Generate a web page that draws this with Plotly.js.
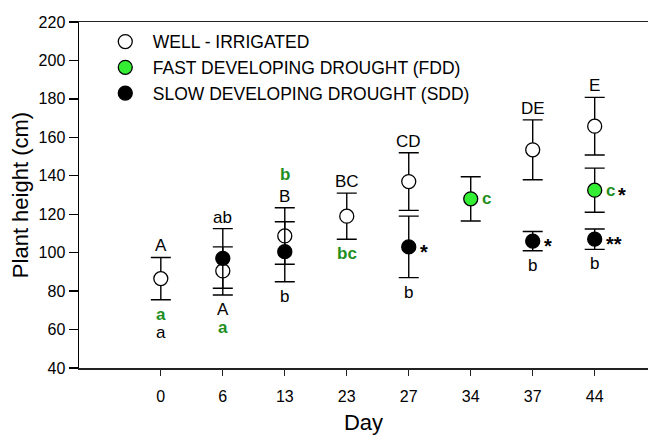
<!DOCTYPE html>
<html>
<head>
<meta charset="utf-8">
<script src="https://cdn.plot.ly/plotly-3.0.1.min.js"></script>
<style>html,body{margin:0;padding:0;background:#fff}#chart{width:648px;height:435px}</style>
</head>
<body>
<div id="chart"></div>
<script>
// ---- data ----
const days = ['0', '6', '13', '23', '27', '34', '37', '44'];
const wiIdx  = [0, 1, 2, 3, 4, 6, 7];
const wiMean = [86.5, 90.5, 108.7, 119, 137, 153.5, 165.8];
const wiErr  = [11, 12.5, 14.7, 12, 15, 15.6, 15];
const fddIdx  = [5, 7];
const fddMean = [128, 132.5];
const fddErr  = [11.5, 11.5];
const sddIdx  = [1, 2, 4, 6, 7];
const sddMean = [97, 100.5, 103, 106, 107];
const sddErr  = [15.5, 15.6, 16, 5, 5.3];
const seriesNames = ['WELL - IRRIGATED', 'FAST DEVELOPING DROUGHT (FDD)', 'SLOW DEVELOPING DROUGHT (SDD)'];
// letter labels: [series, day index, text, kind]
const labels = [
  ['wi', 0, 'A', 'above'],
  ['wi', 0, 'a', 'below-g'],
  ['wi', 0, 'a', 'below2'],
  ['sdd', 1, 'ab', 'above'],
  ['wi', 1, 'A', 'below'],
  ['wi', 1, 'a', 'below2-g'],
  ['wi', 2, 'B', 'above'],
  ['wi', 2, 'b', 'above2-g'],
  ['sdd', 2, 'b', 'below'],
  ['wi', 3, 'BC', 'above'],
  ['wi', 3, 'bc', 'below-g'],
  ['wi', 4, 'CD', 'above'],
  ['sdd', 4, '*', 'right'],
  ['sdd', 4, 'b', 'below'],
  ['fdd', 5, 'c', 'right-g'],
  ['wi', 6, 'DE', 'above'],
  ['sdd', 6, '*', 'right'],
  ['sdd', 6, 'b', 'below'],
  ['wi', 7, 'E', 'above'],
  ['fdd', 7, 'c', 'right-g'],
  ['fdd', 7, '*', 'right2'],
  ['sdd', 7, '**', 'right'],
  ['sdd', 7, 'b', 'below']
];

// ---- styles ----
const FONT = 'Arial, "Liberation Sans", Helvetica, sans-serif';
const GREEN_TXT = '#1f8f1f';
const GREEN_FILL = '#33ee33';

function errBar(arr) {
  return {type: 'data', array: arr, visible: true, color: '#000', thickness: 1.4, width: 10};
}
const traces = [
  {x: wiIdx, y: wiMean, name: seriesNames[0], type: 'scatter', mode: 'markers',
   error_y: errBar(wiErr), legendgroup: 'a',
   marker: {symbol: 'circle', size: 14, color: '#fff', line: {color: '#000', width: 1.3}}},
  {x: fddIdx, y: fddMean, name: seriesNames[1], type: 'scatter', mode: 'markers',
   error_y: errBar(fddErr), legendgroup: 'b',
   marker: {symbol: 'circle', size: 14, color: GREEN_FILL, line: {color: '#000', width: 1.3}}},
  {x: sddIdx, y: sddMean, name: seriesNames[2], type: 'scatter', mode: 'markers',
   error_y: errBar(sddErr), legendgroup: 'c',
   marker: {symbol: 'circle', size: 14, color: '#000', line: {color: '#000', width: 1.3}}}
];

const series = {
  wi: {idx: wiIdx, mean: wiMean, err: wiErr},
  fdd: {idx: fddIdx, mean: fddMean, err: fddErr},
  sdd: {idx: sddIdx, mean: sddMean, err: sddErr}
};

const annotations = labels.map(function (l) {
  const s = series[l[0]];
  const k = s.idx.indexOf(l[1]);
  const m = s.mean[k], e = s.err[k];
  const kind = l[3];
  const green = kind.endsWith('-g');
  const star = l[2].indexOf('*') >= 0;
  const a = {x: l[1], y: m, text: l[2], showarrow: false, xref: 'x', yref: 'y',
    font: {family: FONT, size: star ? 20 : 17, color: green ? GREEN_TXT : '#000',
           weight: (green || star) ? 'bold' : 'normal'}};
  if (kind.startsWith('above2')) { a.y = m + e; a.yanchor = 'bottom'; a.yshift = 22; }
  else if (kind.startsWith('above')) { a.y = m + e; a.yanchor = 'bottom'; a.yshift = 0; }
  else if (kind.startsWith('below2')) { a.y = m - e; a.yanchor = 'top'; a.yshift = -21; }
  else if (kind.startsWith('below')) { a.y = m - e; a.yanchor = 'top'; a.yshift = -3; }
  else if (kind === 'right2') { a.xanchor = 'left'; a.xshift = 21; a.yshift = -5; }
  else if (kind.startsWith('right')) { a.xanchor = 'left'; a.xshift = 9; a.yshift = star ? -5 : 0; }
  return a;
});

const layout = {
  width: 648, height: 435,
  margin: {l: 79, r: 0, t: 22, b: 67, pad: 0},
  paper_bgcolor: '#fff', plot_bgcolor: '#fff',
  font: {family: FONT, color: '#000'},
  showlegend: true,
  legend: {x: 0.033, y: 0.995, xanchor: 'left', yanchor: 'top', bgcolor: 'rgba(0,0,0,0)',
           font: {family: FONT, size: 17.5, color: '#000'}, traceorder: 'grouped', tracegroupgap: 0,
           itemwidth: 45},
  xaxis: {
    range: [-1.32, 7.86], tickmode: 'array', tickvals: days.map((d, i) => i), ticktext: days,
    showgrid: false, zeroline: false, showline: true, linecolor: '#222', linewidth: 1.5, mirror: true,
    ticks: 'outside', ticklen: 6, tickwidth: 1.3, tickcolor: '#222', ticklabelstandoff: 7,
    tickfont: {family: FONT, size: 16, color: '#000'},
    title: {text: 'Day', font: {family: FONT, size: 22, color: '#000'}, standoff: 13}
  },
  yaxis: {
    range: [40, 220], tickvals: [40, 60, 80, 100, 120, 140, 160, 180, 200, 220],
    showgrid: false, zeroline: false, showline: true, linecolor: '#000', linewidth: 1.5,
    ticks: 'outside', ticklen: 9, tickwidth: 1.3, tickcolor: '#000',
    tickfont: {family: FONT, size: 16, color: '#000'},
    title: {text: 'Plant height (cm)', font: {family: FONT, size: 22, color: '#000'}, standoff: 4}
  },
  annotations: annotations
};

Plotly.newPlot('chart', traces, layout, {displayModeBar: false, staticPlot: true});
</script>
</body>
</html>
